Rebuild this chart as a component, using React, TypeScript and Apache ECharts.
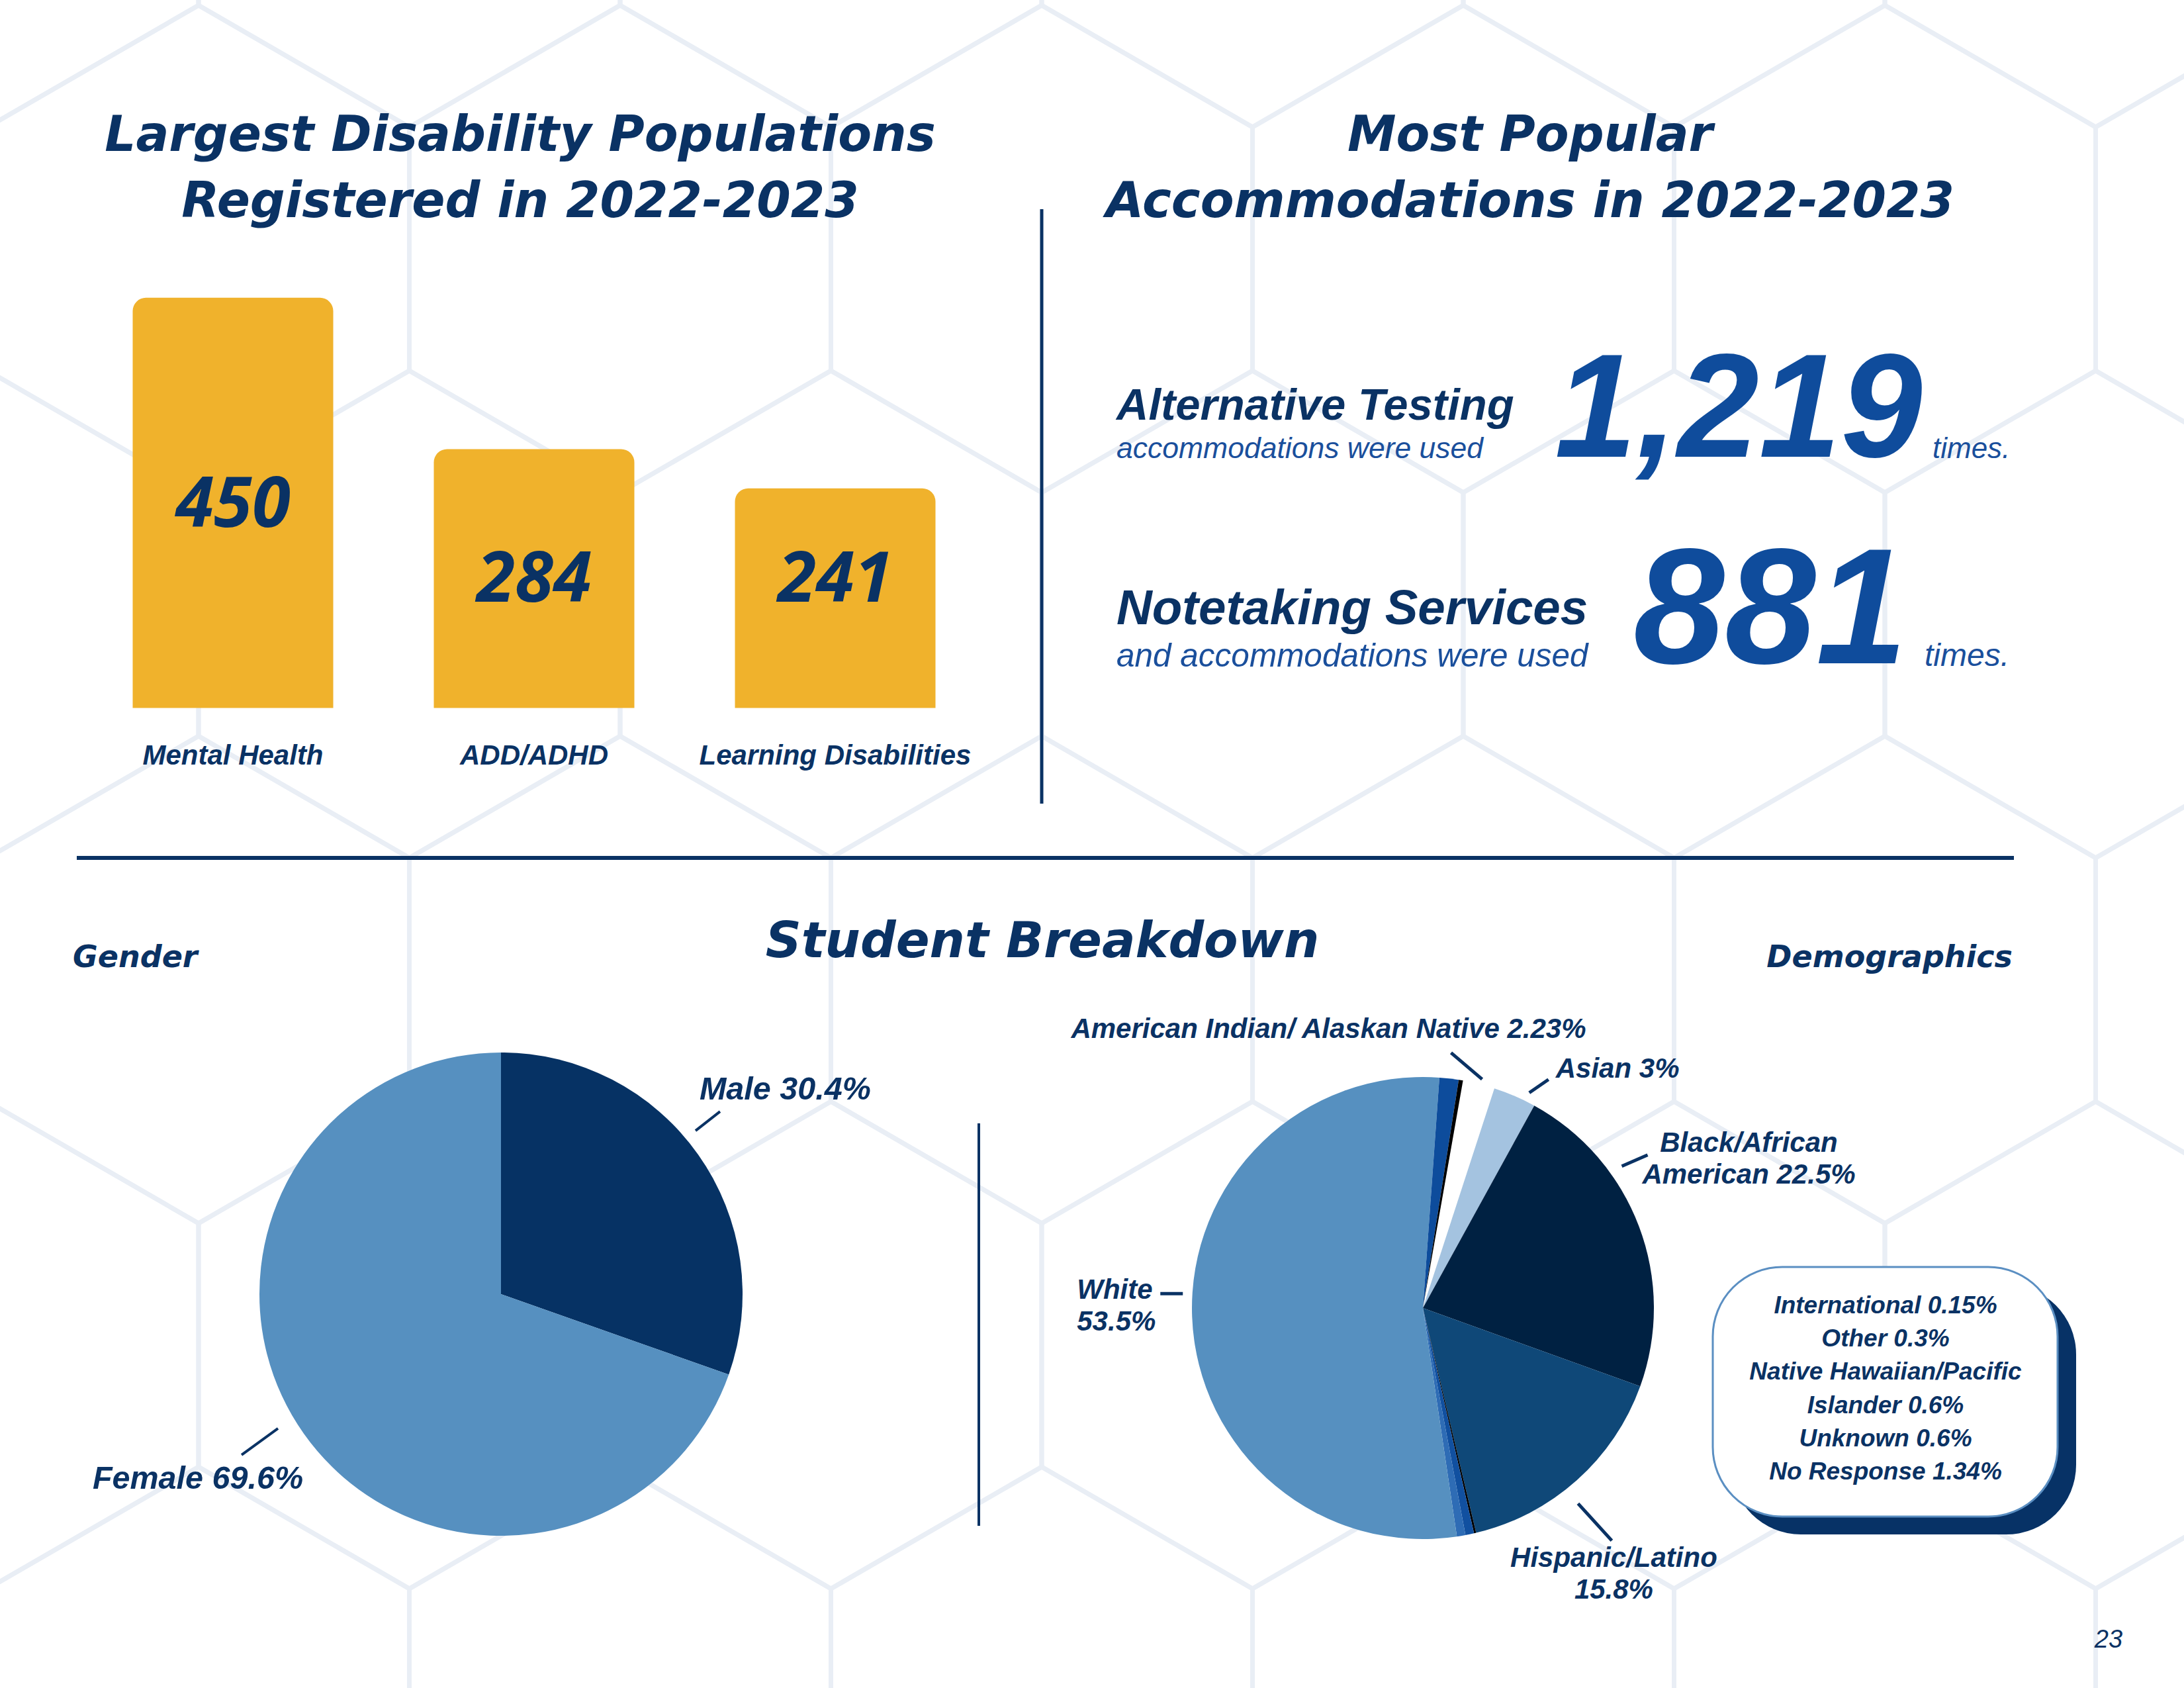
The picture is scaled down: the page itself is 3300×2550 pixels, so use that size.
import React, { useEffect, useRef } from 'react';
import * as echarts from 'echarts';

// ---------------- data ----------------
const barCategories = ['Mental Health', 'ADD/ADHD', 'Learning Disabilities'];
const barValues = [450, 284, 241];

const statTitles = ['Alternative Testing', 'Notetaking Services'];
const statSubtitles = ['accommodations were used', 'and accommodations were used'];
const statValues = [1219, 881];

const genderNames = ['Male', 'Female'];
const genderValues = [30.4, 69.6];

const demoNames = [
  'American Indian/ Alaskan Native',
  'Asian',
  'Black/African American',
  'Hispanic/Latino',
  'International',
  'Native Hawaiian/Pacific Islander',
  'Unknown',
  'White',
  'No Response',
  'Other',
];
const demoValues = [2.23, 3, 22.5, 15.8, 0.15, 0.6, 0.6, 53.5, 1.34, 0.3];
const demoLabelledOnChart = ['American Indian/ Alaskan Native', 'Asian', 'Black/African American', 'Hispanic/Latino', 'White'];
const boxNames = ['International', 'Other', 'Native Hawaiian/Pacific Islander', 'Unknown', 'No Response'];

// ---------------- styles ----------------
const NAVY = '#0a3264';
const GOLD = '#f0b22c';
const BIG_BLUE = '#0f4c9c';
const SUB_BLUE = '#1a4f9c';
const HEX = '#e9eef5';
const TITLE_FONT = '"DejaVu Sans", "Open Sans", sans-serif';
const DIGIT_FONT = '"Open Sans", Lato, sans-serif';
const ARIAL = '"Liberation Sans", Arial, sans-serif';

const barLabelShift = [-4, -5, -35];
const genderColors = ['#063264', '#5690c0'];
const demoColors = ['#ffffff', '#a4c3e0', '#002142', '#0f4878', '#000000', '#1150a0', '#2e6cb5', '#5690c0', '#0d4c9c', '#000000'];

type Geo = { line: number[]; label: number[]; align: string };
// offsets relative to the pie's own label anchor point (outer edge at mid-angle)
const genderLabelGeo: Record<string, Geo> = {
  Male: { line: [-4, -36, 33, -65], label: [2, -100], align: 'left' },
  Female: { line: [-39, -8, -94, 32], label: [-1, 66], align: 'right' },
};
const demoLabelGeo: Record<string, Geo> = {
  'American Indian/ Alaskan Native': { line: [5, -7, -42, -47], label: [162, -84], align: 'right' },
  Asian: { line: [22, -5, 51, -25], label: [62, -42], align: 'left' },
  'Black/African American': { line: [-26, -91, 13, -108], label: [166, -103], align: 'center' },
  'Hispanic/Latino': { line: [2, 35, 53, 91], label: [56, 140], align: 'center' },
  White: { line: [-48, -35, -14, -35], label: [-174, -18], align: 'left' },
};
const demoLabelText: Record<string, (n: string, v: number) => string> = {
  'Black/African American': (n, v) => `Black/African\nAmerican ${v}%`,
  'Hispanic/Latino': (n, v) => `${n}\n${v}%`,
  White: (n, v) => `${n}\n${v}%`,
};

function makeLabelLayout(geo: Record<string, Geo>, names: string[]) {
  return (params: any) => {
    const g = geo[names[params.dataIndex]];
    const pts = params.labelLinePoints;
    if (!g || !pts) return {};
    const [px, py] = pts[0];
    return {
      x: px + g.label[0],
      y: py + g.label[1],
      align: g.align,
      verticalAlign: 'middle',
      labelLinePoints: [
        [px + g.line[0], py + g.line[1]],
        [px + g.line[2], py + g.line[3]],
      ],
    };
  };
}

function hexBackground() {
  const els: any[] = [];
  const s = 368;
  const hw = 318.5;
  for (let r = -1; r <= 4; r++) {
    for (let k = -1; k <= 6; k++) {
      const cx = 300 + (r % 2 !== 0 ? hw : 0) + 2 * hw * k;
      const cy = 376 + 552 * r;
      els.push({
        type: 'polygon',
        silent: true,
        z: 0,
        shape: {
          points: [
            [cx, cy - s],
            [cx + hw, cy - s / 2],
            [cx + hw, cy + s / 2],
            [cx, cy + s],
            [cx - hw, cy + s / 2],
            [cx - hw, cy - s / 2],
          ],
        },
        style: { fill: 'none', stroke: HEX, lineWidth: 7 },
      });
    }
  }
  return els;
}

function txt(x: number, y: number, text: string, o: any) {
  return {
    type: 'text',
    x,
    y,
    z: 20,
    silent: true,
    style: {
      text,
      align: o.align || 'left',
      verticalAlign: 'middle',
      fontSize: o.size,
      fontFamily: o.font || ARIAL,
      fontWeight: o.weight || 'bold',
      fontStyle: o.style || 'italic',
      fill: o.color || NAVY,
      lineHeight: o.lineHeight,
    },
  };
}

function buildOption() {
  const statLayout = [
    { titleY: 610, subY: 676, titleSize: 67, subSize: 44.5, numX: 2627, numY: 613, numSize: 222, timesX: 2920, timesSize: 44 },
    { titleY: 917, subY: 989, titleSize: 74.5, subSize: 49.5, numX: 2675, numY: 916, numSize: 248, timesX: 2908, timesSize: 48 },
  ];
  const statTexts: any[] = [];
  statTitles.forEach((t, i) => {
    const L = statLayout[i];
    statTexts.push(txt(1687, L.titleY, t, { size: L.titleSize }));
    statTexts.push(txt(1687, L.subY, statSubtitles[i], { size: L.subSize, weight: 'normal', color: SUB_BLUE }));
    statTexts.push(txt(L.numX, L.numY, statValues[i].toLocaleString('en-US'), { size: L.numSize, align: 'center', color: BIG_BLUE }));
    statTexts.push(txt(L.timesX, L.subY, 'times.', { size: L.timesSize, weight: 'normal', color: SUB_BLUE }));
  });

  const boxText = boxNames
    .map((n) => {
      const v = demoValues[demoNames.indexOf(n)];
      return `${n.replace('Pacific ', 'Pacific\n')} ${v}%`;
    })
    .join('\n');

  return {
    animation: false,
    backgroundColor: '#ffffff',
    grid: { left: 124.5, width: 1365, top: 381, height: 688.5, containLabel: false },
    xAxis: {
      type: 'category',
      data: barCategories,
      axisLine: { show: false },
      axisTick: { show: false },
      axisLabel: {
        interval: 0,
        margin: 71,
        verticalAlign: 'middle',
        fontFamily: ARIAL,
        fontWeight: 'bold',
        fontStyle: 'italic',
        fontSize: 42,
        color: NAVY,
      },
    },
    yAxis: { type: 'value', min: 0, max: 500, show: false, splitLine: { show: false } },
    series: [
      {
        type: 'bar',
        barWidth: 303,
        silent: true,
        data: barValues.map((v, i) => ({ value: v, label: { offset: [0, barLabelShift[i]] } })),
        itemStyle: { color: GOLD, borderRadius: [20, 20, 0, 0] },
        label: {
          show: true,
          position: 'inside',
          formatter: '{c}',
          fontFamily: DIGIT_FONT,
          fontWeight: 'bold',
          fontStyle: 'italic',
          fontSize: 105,
          color: NAVY,
        },
      },
      {
        type: 'pie',
        silent: true,
        center: [757, 1955],
        radius: 365,
        startAngle: 90,
        clockwise: true,
        avoidLabelOverlap: false,
        data: genderNames.map((n, i) => ({ name: n, value: genderValues[i], itemStyle: { color: genderColors[i] } })),
        itemStyle: { borderWidth: 0 },
        label: {
          show: true,
          position: 'outside',
          formatter: (p: any) => `${p.name} ${p.value}%`,
          fontFamily: ARIAL,
          fontWeight: 'bold',
          fontStyle: 'italic',
          fontSize: 48.5,
          color: NAVY,
        },
        labelLine: { show: true, length: 20, length2: 0, lineStyle: { color: NAVY, width: 4 } },
        labelLayout: makeLabelLayout(genderLabelGeo, genderNames),
      },
      {
        type: 'pie',
        silent: true,
        center: [2150, 1976],
        radius: 349,
        startAngle: 80,
        clockwise: true,
        avoidLabelOverlap: false,
        data: demoNames.map((n, i) => {
          const shown = demoLabelledOnChart.includes(n);
          return {
            name: n,
            value: demoValues[i],
            itemStyle: { color: demoColors[i] },
            label: { show: shown },
            labelLine: { show: shown },
          };
        }),
        itemStyle: { borderWidth: 0 },
        label: {
          show: true,
          position: 'outside',
          formatter: (p: any) => (demoLabelText[p.name] ? demoLabelText[p.name](p.name, p.value) : `${p.name} ${p.value}%`),
          fontFamily: ARIAL,
          fontWeight: 'bold',
          fontStyle: 'italic',
          fontSize: 42,
          lineHeight: 48,
          color: NAVY,
        },
        labelLine: { show: true, length: 20, length2: 0, lineStyle: { color: NAVY, width: 5 } },
        labelLayout: makeLabelLayout(demoLabelGeo, demoNames),
      },
    ],
    graphic: {
      elements: [
        ...hexBackground(),
        { type: 'line', z: 10, silent: true, shape: { x1: 1574, y1: 316, x2: 1574, y2: 1214 }, style: { stroke: NAVY, lineWidth: 5 } },
        { type: 'line', z: 10, silent: true, shape: { x1: 116, y1: 1296, x2: 3043, y2: 1296 }, style: { stroke: NAVY, lineWidth: 6 } },
        { type: 'line', z: 10, silent: true, shape: { x1: 1479, y1: 1697, x2: 1479, y2: 2305 }, style: { stroke: NAVY, lineWidth: 4 } },
        {
          type: 'rect', z: 10, silent: true,
          shape: { x: 2616, y: 1941, width: 521, height: 377, r: 105 },
          style: { fill: '#073266' },
        },
        {
          type: 'rect', z: 11, silent: true,
          shape: { x: 2588, y: 1914, width: 521, height: 377, r: 105 },
          style: { fill: '#ffffff', stroke: '#5b8fc2', lineWidth: 3 },
        },
        txt(786, 252, 'Largest Disability Populations\nRegistered in 2022-2023', { size: 74, font: TITLE_FONT, align: 'center', lineHeight: 100 }),
        txt(2312, 252, 'Most Popular\nAccommodations in 2022-2023', { size: 74, font: TITLE_FONT, align: 'center', lineHeight: 100 }),
        ...statTexts,
        txt(110, 1445, 'Gender', { size: 46, font: TITLE_FONT }),
        txt(1575, 1420, 'Student Breakdown', { size: 75, font: TITLE_FONT, align: 'center' }),
        txt(3041, 1445, 'Demographics', { size: 46, font: TITLE_FONT, align: 'right' }),
        txt(2849, 2097, boxText, { size: 37, align: 'center', lineHeight: 50.2 }),
        txt(3186, 2476, '23', { size: 38, weight: 'normal', align: 'center' }),
      ],
    },
  };
}

export default function App() {
  const ref = useRef<HTMLDivElement>(null);
  useEffect(() => {
    document.body.style.margin = '0';
    document.body.style.overflow = 'hidden';
    const chart = echarts.init(ref.current as HTMLDivElement, undefined, { renderer: 'svg', width: 3300, height: 2550 });
    chart.setOption(buildOption() as any);
    return () => chart.dispose();
  }, []);
  return <div ref={ref} style={{ width: 3300, height: 2550, background: '#ffffff' }} />;
}
